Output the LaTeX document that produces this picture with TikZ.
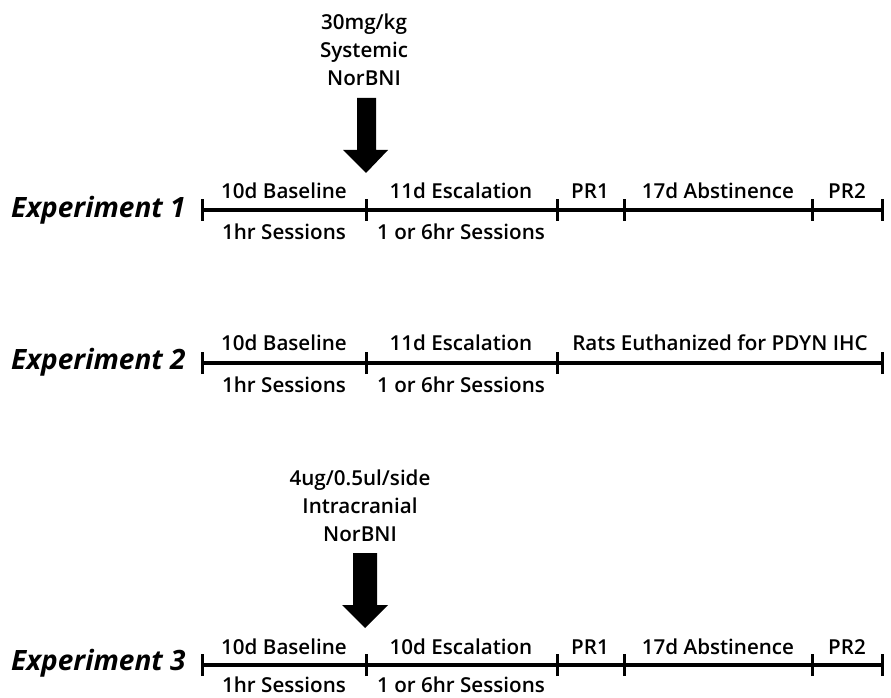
\documentclass[tikz,border=0pt]{standalone}
\usepackage{fontspec}
\setmainfont{Open Sans}
\IfFontExistsTF{Open Sans Semibold}{%
  \newfontfamily\lblfont{Open Sans Semibold}\def\lblsize{20.6}}{%
  \IfFontExistsTF{Open Sans SemiBold}{%
    \newfontfamily\lblfont{Open Sans SemiBold}\def\lblsize{20.6}}{%
    \newfontfamily\lblfont{Open Sans}[FakeBold=1.4]\def\lblsize{21.2}}}
\begin{document}
\begin{tikzpicture}[x=1pt,y=1pt,
  lbl/.style={anchor=base, inner sep=0pt, font=\lblfont\fontsize{\lblsize}{\lblsize}\selectfont},
  explbl/.style={anchor=base west, inner sep=0pt, font=\fontsize{28}{28}\selectfont\bfseries\itshape},
  tl/.style={line width=3.2pt},
  tk/.style={line width=3pt},
  blk/.style={fill=black, draw=none}]
\useasboundingbox (0,0) rectangle (891,697);

% ---------- Experiment 1 ----------
\node[explbl] (e1) at (11,479) {Experiment 1};
\foreach \x [count=\i] in {202,366,557,624,812,882} {
  \coordinate (a\i) at (\x,487);
  \draw[tk] ([yshift=-11pt]a\i) -- ([yshift=11pt]a\i);
}
\draw[tl] (a1) -- (a6);
\node[lbl] (a-bl) at (284,498) {10d Baseline};
\node[lbl] (a-es) at (461,498) {11d Escalation};
\node[lbl] (a-p1) at (590,498) {PR1};
\node[lbl] (a-ab) at (718,498) {17d Abstinence};
\node[lbl] (a-p2) at (847,498) {PR2};
\node[lbl] (a-s1) at (284,457) {1hr Sessions};
\node[lbl] (a-s2) at (461,457) {1 or 6hr Sessions};

\node[lbl] (a-t1) at (364,667) {30mg/kg};
\node[lbl] (a-t2) at (364,639) {Systemic};
\node[lbl] (a-t3) at (364,611) {NorBNI};
\fill[blk] (357,599) -- (376,599) -- (376,547) -- (388,547) -- (366,524)
  -- (343,547) -- (357,547) -- cycle;

% ---------- Experiment 2 ----------
\node[explbl] (e2) at (11,327) {Experiment 2};
\foreach \x [count=\i] in {202,366,557,882} {
  \coordinate (b\i) at (\x,334);
  \draw[tk] ([yshift=-11pt]b\i) -- ([yshift=11pt]b\i);
}
\draw[tl] (b1) -- (b4);
\node[lbl] (b-bl) at (284,346) {10d Baseline};
\node[lbl] (b-es) at (461,346) {11d Escalation};
\node[lbl] (b-ra) at (720,346) {Rats Euthanized for PDYN IHC};
\node[lbl] (b-s1) at (284,305) {1hr Sessions};
\node[lbl] (b-s2) at (461,305) {1 or 6hr Sessions};

% ---------- Experiment 3 ----------
\node[explbl] (e3) at (11,27) {Experiment 3};
\foreach \x [count=\i] in {202,366,557,624,812,882} {
  \coordinate (c\i) at (\x,32);
  \draw[tk] ([yshift=-11pt]c\i) -- ([yshift=11pt]c\i);
}
\draw[tl] (c1) -- (c6);
\node[lbl] (c-bl) at (284,43) {10d Baseline};
\node[lbl] (c-es) at (461,43) {10d Escalation};
\node[lbl] (c-p1) at (590,43) {PR1};
\node[lbl] (c-ab) at (718,43) {17d Abstinence};
\node[lbl] (c-p2) at (847,43) {PR2};
\node[lbl] (c-s1) at (284,5) {1hr Sessions};
\node[lbl] (c-s2) at (461,5) {1 or 6hr Sessions};

\node[lbl] (c-t1) at (360,212) {4ug/0.5ul/side};
\node[lbl] (c-t2) at (360,184) {Intracranial};
\node[lbl] (c-t3) at (360,156) {NorBNI};
\fill[blk] (353,144) -- (377,144) -- (377,92) -- (388,92) -- (365,69)
  -- (342,92) -- (353,92) -- cycle;
\end{tikzpicture}
\end{document}
